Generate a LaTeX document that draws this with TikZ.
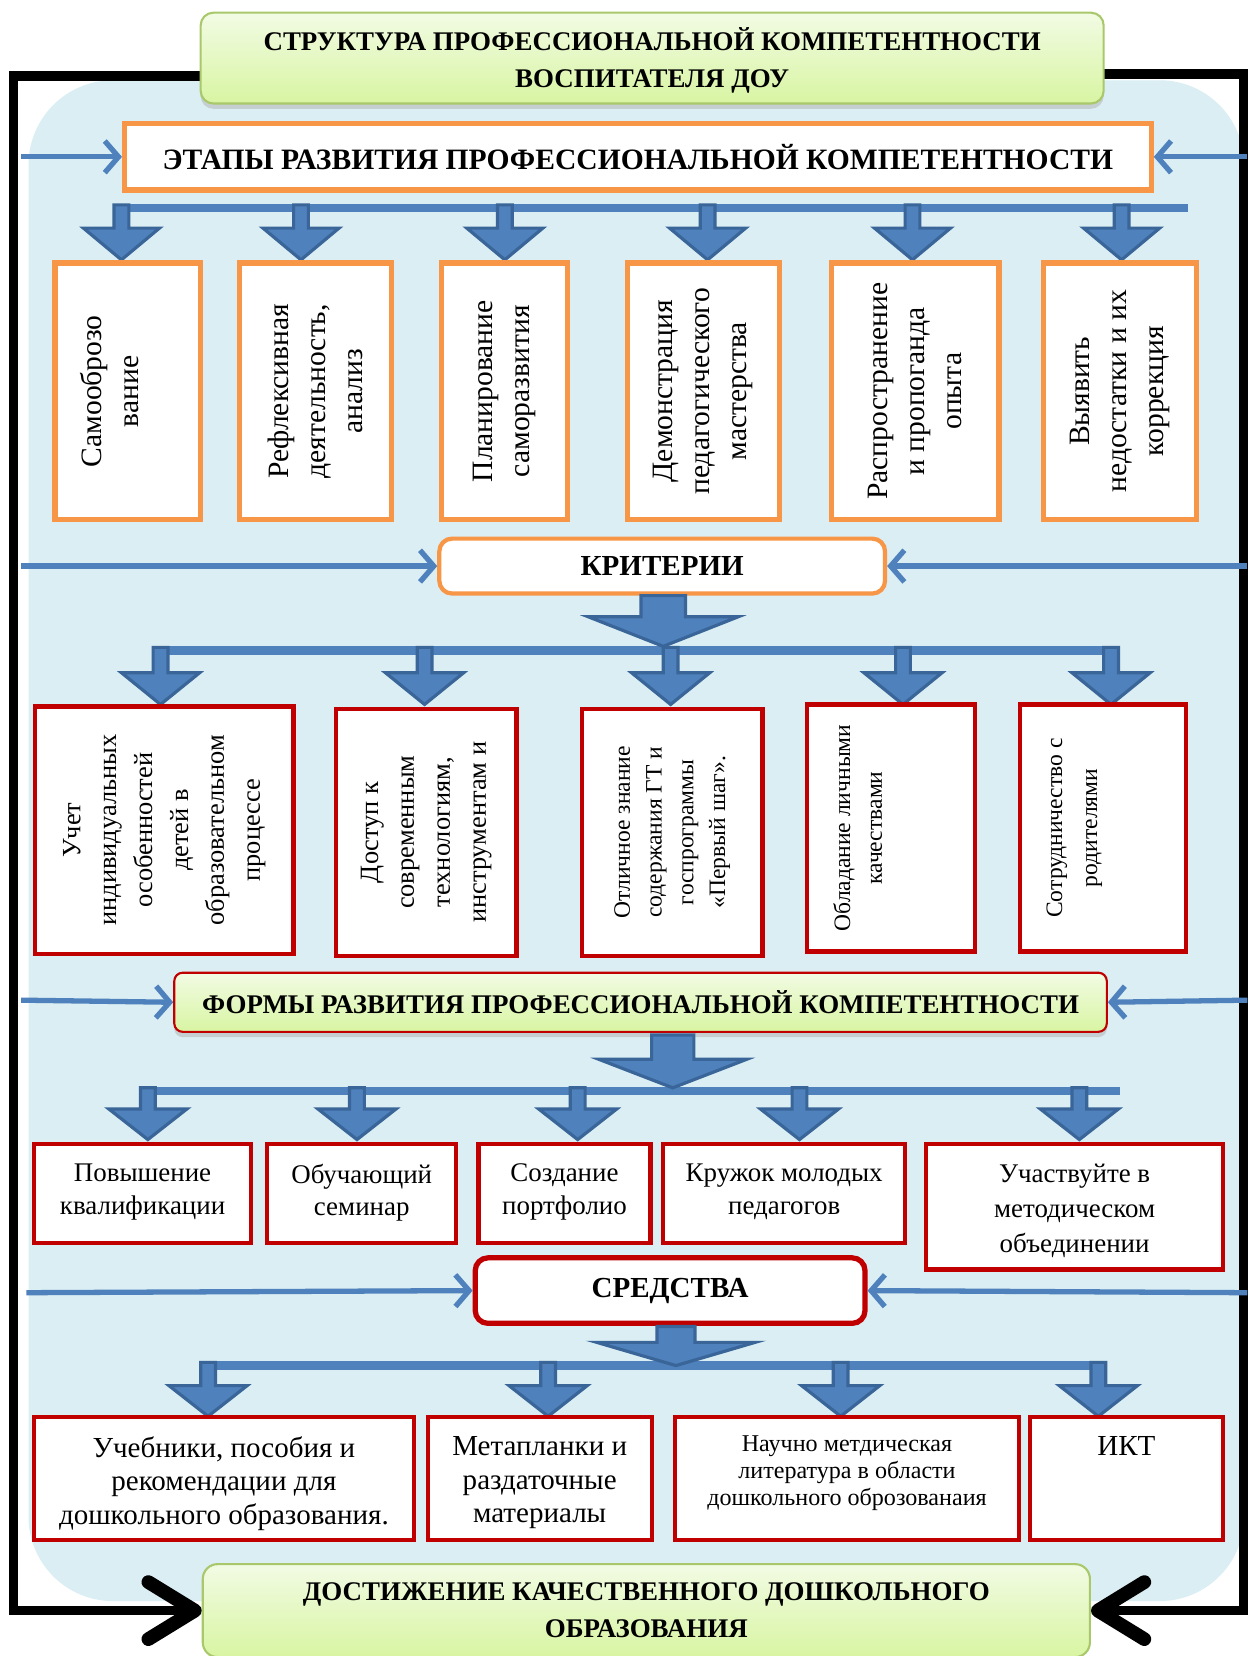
\documentclass[tikz,border=0pt]{standalone}
\usepackage{fontspec}
\setmainfont{Liberation Serif}
\usetikzlibrary{arrows.meta,shadows,backgrounds,calc}
\definecolor{orangeC}{HTML}{F79646}
\definecolor{redC}{HTML}{C00000}
\definecolor{blueC}{HTML}{4F81BD}
\definecolor{blueD}{HTML}{3A6598}
\definecolor{bgblue}{HTML}{DAEEF3}
\definecolor{greenT}{HTML}{F2FBE4}
\definecolor{greenB}{HTML}{D8F5A2}
\definecolor{greenL}{HTML}{A9C86B}
\newcommand\TitF{\rmfamily\bfseries\fontsize{25.5pt}{35pt}\selectfont}
\newcommand\KrF{\rmfamily\bfseries\fontsize{27.5pt}{34pt}\selectfont}
\newcommand\EtF{\rmfamily\bfseries\fontsize{28pt}{34pt}\selectfont}
\newcommand\RowAF{\rmfamily\fontsize{28pt}{35pt}\selectfont}
\newcommand\RowBF{\rmfamily\fontsize{25pt}{34pt}\selectfont}
\newcommand\RowCF{\rmfamily\fontsize{22.3pt}{30pt}\selectfont}
\newcommand\RowDF{\rmfamily\fontsize{25.5pt}{31pt}\selectfont}
\newcommand\RowEF{\rmfamily\fontsize{27.5pt}{32pt}\selectfont}
\newcommand\RowGF{\rmfamily\fontsize{22.8pt}{26pt}\selectfont}
\newcommand\darr[6]{\filldraw[barrow] ({#1-#4},#2) -- ({#1+#4},#2) -- ({#1+#4},#3) -- ({#1+#5},#3) -- (#1,#6) -- ({#1-#5},#3) -- ({#1-#4},#3) -- cycle;}
\tikzset{
  obox/.style={draw=orangeC, line width=5pt, fill=white, inner sep=0pt, align=center},
  rbox/.style={draw=redC, line width=4pt, fill=white, inner sep=0pt, align=center},
  gbox/.style={top color=greenT, bottom color=greenB, inner sep=0pt, align=center, rounded corners=12pt},
  hline/.style={draw=blueC, line width=5pt, -{Straight Barb[length=13pt,width=30pt]}},
  bar/.style={draw=blueC, line width=8pt},
  barrow/.style={fill=blueC, draw=blueD, line width=3pt, line join=miter},
  frame/.style={draw=black, line width=9pt},
  bigtip/.style={-{Straight Barb[length=44pt,width=54pt,line width=13pt,round]}},
  shad/.style={drop shadow={shadow xshift=0pt, shadow yshift=-5pt, fill=gray!60}}
}
\begin{document}
\begin{tikzpicture}[x=1pt,y=-1pt]
\useasboundingbox (0,0) rectangle (1181,1568);

% title
\node[gbox, shad, draw=greenL, line width=2pt, minimum width=855pt, minimum height=86pt, font=\TitF] (title) at (617.5,55) {\parbox[c][86pt][c]{840pt}{\centering\vspace*{5pt}СТРУКТУРА ПРОФЕССИОНАЛЬНОЙ КОМПЕТЕНТНОСТИ\\ВОСПИТАТЕЛЯ ДОУ}};

% stages
\node[obox, minimum width=972pt, minimum height=63pt, font=\EtF] (etapy) at (604,148.5) {ЭТАПЫ РАЗВИТИЯ ПРОФЕССИОНАЛЬНОЙ КОМПЕТЕНТНОСТИ};
\draw[hline] (20,148.5) -- (etapy.west);
\draw[hline] (1181,148.5) -- (etapy.east);

\draw[bar] (108,197) -- (1125,197);
\foreach \xx in {115,285,478,670,864,1062} {\darr{\xx}{194}{216}{7}{36}{246}}

\node[obox, rotate=90, minimum width=243pt, minimum height=138pt, font=\RowAF] (s1) at (121,370.5) {\parbox[c][138pt][t]{235pt}{\centering\vspace*{24pt}Самооброзо\\вание}};
\node[obox, rotate=90, minimum width=243pt, minimum height=144pt, font=\RowAF] (s2) at (299,370.5) {Рефлексивная\\деятельность,\\анализ};
\node[obox, rotate=90, minimum width=243pt, minimum height=119pt, font=\RowAF] (s3) at (477.5,370.5) {Планирование\\саморазвития};
\node[obox, rotate=90, minimum width=243pt, minimum height=144pt, font=\RowAF] (s4) at (666,370.5) {Демонстрация\\педагогического\\мастерства};
\node[obox, rotate=90, minimum width=243pt, minimum height=159pt, font=\RowAF] (s5) at (866.5,370.5) {Распространение\\и пропоганда\\опыта};
\node[obox, rotate=90, minimum width=243pt, minimum height=145pt, font=\RowAF] (s6) at (1060.5,370.5) {Выявить\\недостатки и их\\коррекция};

% criteria
\node[obox, line width=4pt, rounded corners=12pt, minimum width=422pt, minimum height=52pt, font=\KrF] (krit) at (627,536) {КРИТЕРИИ};
\draw[hline] (20,536) -- (krit.west);
\draw[hline] (1181,536) -- (krit.east);
\draw[bar] (145,616) -- (1057,616);
\darr{628}{564}{584}{21}{71}{612}
\foreach \xx in {152,402,635,855,1052} {\darr{\xx}{613}{637}{7}{37}{667}}

\node[rbox, rotate=90, minimum width=234pt, minimum height=245pt, font=\RowBF] (c1) at (155.5,786) {Учет\\индивидуальных\\особенностей\\детей в\\образовательном\\процессе};
\node[rbox, rotate=90, minimum width=234pt, minimum height=171pt, font=\RowBF] (c2) at (403.5,788) {Доступ к\\современным\\технологиям,\\инструментам и};
\node[rbox, rotate=90, minimum width=234pt, minimum height=171pt, font=\RowCF] (c3) at (636.5,788) {Отличное знание\\содержания ГТ и\\госпрограммы\\«Первый шаг».};
\node[rbox, rotate=90, minimum width=234pt, minimum height=159pt, font=\RowCF] (c4) at (843.5,784) {\parbox[c][153pt][t]{226pt}{\centering\vspace*{22pt}Обладание личными\\качествами}};
\node[rbox, rotate=90, minimum width=234pt, minimum height=157pt, font=\RowCF] (c5) at (1044.5,784) {\parbox[c][151pt][t]{226pt}{\centering\fontsize{22.3pt}{33pt}\selectfont\vspace*{22pt}Сотрудничество с\\родителями}};

% forms
\node[gbox, shad, draw=redC, line width=2pt, rounded corners=8pt, minimum width=883pt, minimum height=56pt, font=\TitF] (formy) at (606.5,949) {ФОРМЫ РАЗВИТИЯ ПРОФЕССИОНАЛЬНОЙ КОМПЕТЕНТНОСТИ};
\draw[hline] (20,947) -- (formy.west);
\draw[hline] (1181,947) -- (formy.east);
\draw[bar] (140,1033) -- (1060,1033);
\darr{637}{980}{1003}{20}{70}{1030}
\foreach \xx in {140,338,547,757,1022} {\darr{\xx}{1030}{1050}{7}{37}{1079}}

\node[rbox, minimum width=206pt, minimum height=94pt, font=\RowDF] (f1) at (135,1130) {\parbox[c][94pt][t]{200pt}{\centering\vspace*{19pt}Повышение\\квалификации}};
\node[rbox, minimum width=179pt, minimum height=94pt, font=\RowDF] (f2) at (342.5,1130) {\parbox[c][94pt][t]{175pt}{\centering\vspace*{19pt}Обучающий\\семинар}};
\node[rbox, minimum width=163pt, minimum height=94pt, font=\RowDF] (f3) at (534.5,1130) {\parbox[c][94pt][t]{160pt}{\centering\vspace*{19pt}Создание\\портфолио}};
\node[rbox, minimum width=229pt, minimum height=94pt, font=\RowDF] (f4) at (742.5,1130) {\parbox[c][94pt][t]{225pt}{\centering\vspace*{19pt}Кружок молодых\\педагогов}};
\node[rbox, minimum width=281pt, minimum height=119pt, font=\RowDF] (f5) at (1017.5,1142.5) {\parbox[c][119pt][t]{275pt}{\centering\fontsize{25.5pt}{33pt}\selectfont\vspace*{19pt}Участвуйте в\\методическом\\объединении}};

% means
\node[obox, draw=redC, line width=5pt, rounded corners=12pt, minimum width=369pt, minimum height=62pt, font=\KrF] (sred) at (634.5,1222) {СРЕДСТВА};
\draw[hline] (25,1224) -- (sred.west);
\draw[hline] (1181,1224) -- (sred.east);
\draw[bar] (200,1293) -- (1045,1293);
\darr{640}{1256}{1271}{18}{75}{1293}
\foreach \xx in {197,519,796,1040} {\darr{\xx}{1290}{1312}{7}{37}{1341}}

\node[rbox, minimum width=360pt, minimum height=116pt, font=\RowEF] (m1) at (212,1400) {\parbox[c][116pt][t]{356pt}{\centering\vspace*{18pt}Учебники, пособия и\\рекомендации для\\дошкольного образования.}};
\node[rbox, minimum width=212pt, minimum height=116pt, font=\RowEF] (m2) at (511,1400) {\parbox[c][116pt][t]{208pt}{\centering\vspace*{18pt}Метапланки и\\раздаточные\\материалы}};
\node[rbox, minimum width=326pt, minimum height=116pt, font=\RowGF] (m3) at (802,1400) {\parbox[c][116pt][t]{320pt}{\centering\vspace*{17pt}Научно метдическая\\литература в области\\дошкольного оброзованаия}};
\node[rbox, minimum width=183pt, minimum height=116pt, font=\RowEF] (m4) at (1066.5,1400) {\parbox[c][116pt][t]{178pt}{\centering\vspace*{18pt}ИКТ}};

% result
\node[gbox, draw=greenL, line width=2pt, rounded corners=14pt, minimum width=840pt, minimum height=88pt, font=\TitF] (bottom) at (612,1525) {ДОСТИЖЕНИЕ КАЧЕСТВЕННОГО ДОШКОЛЬНОГО\\ОБРАЗОВАНИЯ};

\begin{pgfonlayer}{background}
\fill[bgblue, rounded corners=80pt] (27,76) rectangle (1178,1516);
\draw[frame] (400,72) -- (13,72) -- (13,1525) -- (150,1525);
\draw[frame] (800,70) -- (1178,70) -- (1178,1525) -- (1070,1525);
\end{pgfonlayer}
\draw[frame, bigtip] (13,1525) -- (bottom.west);
\draw[frame, bigtip] (1178,1525) -- (bottom.east);
\end{tikzpicture}
\end{document}
